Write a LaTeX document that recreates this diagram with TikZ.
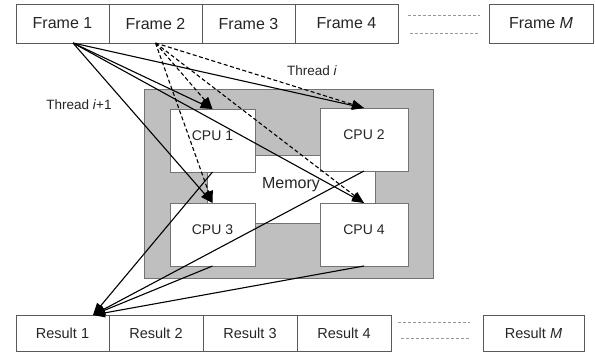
\documentclass[tikz,border=0pt]{standalone}
\usepackage{fontspec}
\setmainfont{Liberation Sans}
\usetikzlibrary{arrows.meta,calc}

\begin{document}
\begin{tikzpicture}[x=1pt,y=-1pt,
  cell/.style={draw=black!65,fill=white,line width=0.8pt,inner sep=0pt,outer sep=0pt,text=black!85},
  framecell/.style={cell,minimum height=39pt,font=\fontsize{16}{18}\selectfont},
  resultcell/.style={cell,minimum height=36pt,font=\fontsize{14.5}{16}\selectfont},
  cpubox/.style={cell,draw=black!55,minimum width=85pt,minimum height=63pt,
    font=\fontsize{14}{16}\selectfont,text height=10pt,text depth=10pt},
  membox/.style={cell,draw=black!55,minimum width=168pt,minimum height=68pt,
    font=\fontsize{16}{18}\selectfont,text height=11pt,text depth=12pt},
  board/.style={draw=black!55,fill=black!25,line width=0.8pt},
  link/.style={line width=1.1pt,-{Triangle[length=12pt,width=9pt]}},
  dlink/.style={link,dash pattern=on 4pt off 2.5pt},
  gap/.style={draw=black!40,line width=0.8pt,dash pattern=on 3pt off 2pt},
  tag/.style={font=\fontsize{13.5}{15}\selectfont,text=black!85,inner sep=0pt}
]
\useasboundingbox (0,0) rectangle (595,354);

% input frames
\node[framecell,minimum width=93pt]  (frame1) at (62.5,23.5) {Frame 1};
\node[framecell,minimum width=93pt]  (frame2) at (155.5,23.5) {Frame 2};
\node[framecell,minimum width=93pt]  (frame3) at (248.5,23.5) {Frame 3};
\node[framecell,minimum width=103pt] (frame4) at (346.5,23.5) {Frame 4};
\node[framecell,minimum width=104pt] (frameM) at (541,23.5) {Frame \textit{M}};
\draw[gap] (408,15) -- (480,15);
\draw[gap] (410,33) -- (480,33);

% output results
\node[resultcell,minimum width=93pt]  (res1) at (62.5,333) {Result 1};
\node[resultcell,minimum width=94pt]  (res2) at (156,333) {Result 2};
\node[resultcell,minimum width=94pt]  (res3) at (250,333) {Result 3};
\node[resultcell,minimum width=94pt]  (res4) at (344,333) {Result 4};
\node[resultcell,minimum width=101pt] (resM) at (533.5,333) {Result \textit{M}};
\draw[gap] (398,322) -- (470,322);
\draw[gap] (401,338) -- (470,338);

% multiprocessor board
\draw[board] (144,89) rectangle (433,278);
\node[membox] (mem) at (291,189) {Memory};
\node[cpubox] (cpu1) at (212.5,140.5) {CPU 1};
\node[cpubox,minimum width=88pt] (cpu2) at (364,139.5) {CPU 2};
\node[cpubox] (cpu3) at (212.5,234.5) {CPU 3};
\node[cpubox,minimum width=88pt] (cpu4) at (364,234.5) {CPU 4};

% dispatch points
\coordinate (out1) at ([xshift=10.5pt]frame1.south);
\coordinate (out2) at (frame2.south);
\coordinate (in1) at ([xshift=30.5pt]res1.north);

% thread i+1 (solid) and thread i (dashed)
\foreach \c in {cpu1,cpu2,cpu3,cpu4} {
  \draw[link] (out1) -- (\c.north);
  \draw[dlink] (out2) -- (\c.north);
  \draw[link] (\c.south) -- (in1);
}

\node[tag] (tnext) at (79,105) {Thread \textit{i}+1};
\node[tag] (tcur) at (312,71) {Thread \textit{i}};
\end{tikzpicture}
\end{document}
